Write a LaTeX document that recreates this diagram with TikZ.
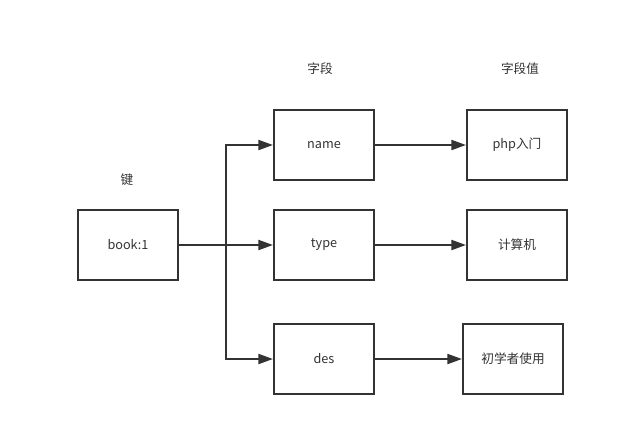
\documentclass[tikz,border=0pt]{standalone}
\usepackage{fontspec}
\setmainfont{Noto Sans CJK SC}
\usetikzlibrary{arrows.meta}
\definecolor{ink}{HTML}{333333}
\begin{document}
\begin{tikzpicture}[x=0.75pt,y=-0.75pt,
  box/.style={draw=ink,line width=1.5pt,minimum width=75pt,minimum height=52.5pt,inner sep=0pt,text=ink,font=\fontsize{9.5pt}{11pt}\selectfont},
  lbl/.style={text=ink,inner sep=0pt,font=\fontsize{9.5pt}{11pt}\selectfont},
  conn/.style={draw=ink,line width=1.5pt},
  arr/.style={conn,-{Triangle[length=11pt,width=7.5pt]}}]
\useasboundingbox (0,0) rectangle (632,426);
\node[box] (book) at (128,245) {book:1};
\node[box] (name) at (324,145) {name};
\node[box] (type) at (324,245) {type};
\node[box] (des) at (324,359) {des};
\node[box] (php) at (517,145) {php入门};
\node[box] (comp) at (517,245) {计算机};
\node[box] (beg) at (513,359) {初学者使用};
\node[lbl] (kkey) at (127,180) {键};
\node[lbl] (kfield) at (320,69) {字段};
\node[lbl] (kval) at (520,69) {字段值};
\coordinate (j) at (226,245);
\draw[conn] (book) -- (j);
\draw[arr] (j) |- (name);
\draw[arr] (j) -- (type);
\draw[arr] (j) |- (des);
\draw[arr] (name) -- (php);
\draw[arr] (type) -- (comp);
\draw[arr] (des) -- (beg);
\end{tikzpicture}
\end{document}
